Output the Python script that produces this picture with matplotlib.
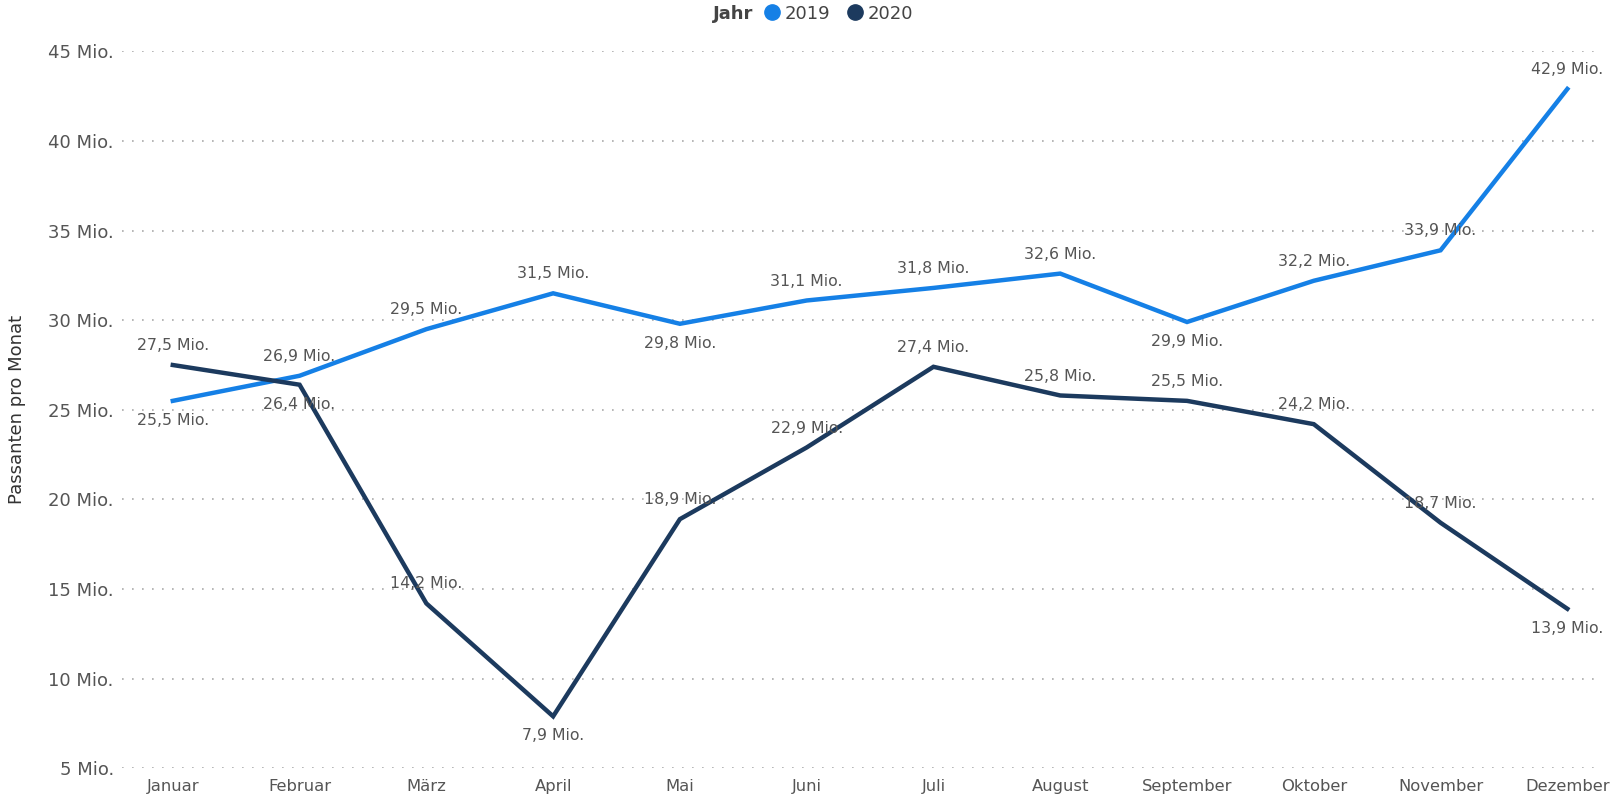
import matplotlib.pyplot as plt
from matplotlib.lines import Line2D

# Daten
monate = ["Januar", "Februar", "März", "April", "Mai", "Juni", "Juli",
          "August", "September", "Oktober", "November", "Dezember"]
werte_2019 = [25.5, 26.9, 29.5, 31.5, 29.8, 31.1, 31.8, 32.6, 29.9, 32.2, 33.9, 42.9]
werte_2020 = [27.5, 26.4, 14.2, 7.9, 18.9, 22.9, 27.4, 25.8, 25.5, 24.2, 18.7, 13.9]
y_ticks = [5, 10, 15, 20, 25, 30, 35, 40, 45]

# Beschriftung oben (1) oder unten (-1)
lage_2019 = [-1, 1, 1, 1, -1, 1, 1, 1, -1, 1, 1, 1]
lage_2020 = [1, -1, 1, -1, 1, 1, 1, 1, 1, 1, 1, -1]

farbe_2019 = "#1580e6"
farbe_2020 = "#1c3a5e"
text_farbe = "#555555"

plt.rcParams['font.family'] = ['DejaVu Sans']


def fmt(v):
    return f"{v:.1f}".replace(".", ",") + " Mio."


def main():
    fig = plt.figure(figsize=(16.17, 8.02), dpi=100)
    ax = fig.add_axes([0.0755, 0.042, 0.913, 0.894])

    x = list(range(len(monate)))
    ax.plot(x, werte_2019, color=farbe_2019, linewidth=3.2, solid_joinstyle="miter", zorder=3)
    ax.plot(x, werte_2020, color=farbe_2020, linewidth=3.2, solid_joinstyle="miter", zorder=3)

    for werte, lage in ((werte_2019, lage_2019), (werte_2020, lage_2020)):
        for i, (v, l) in enumerate(zip(werte, lage)):
            ax.annotate(fmt(v), (i, v), xytext=(0, 14 * l), textcoords="offset points",
                        ha="center", va="center", fontsize=11.3, color=text_farbe, zorder=4)

    ax.set_xlim(-0.4, 11.245)
    ax.set_ylim(5, 45)
    ax.set_xticks(x)
    ax.set_xticklabels(monate, fontsize=11.8, color=text_farbe)
    ax.set_yticks(y_ticks)
    ax.set_yticklabels([f"{t} Mio." for t in y_ticks], fontsize=13, color=text_farbe)
    ax.tick_params(length=0, pad=8)
    ax.tick_params(axis="y", pad=6)
    ax.grid(axis="y", linestyle=(0, (1, 5)), color="#aaaaaa", linewidth=1.2)
    ax.set_axisbelow(True)
    for s in ax.spines.values():
        s.set_visible(False)

    fig.text(0.005, 0.49, "Passanten pro Monat", rotation=90, ha="left", va="center",
             fontsize=13, color="#333333")

    # Legende
    fig.text(0.466, 0.983, "Jahr", fontsize=13, fontweight="bold", color="#444444",
             ha="right", va="center")
    handles = [Line2D([], [], marker="o", linestyle="", markersize=11, color=farbe_2019),
               Line2D([], [], marker="o", linestyle="", markersize=11, color=farbe_2020)]
    fig.legend(handles, ["2019", "2020"], loc="center left", bbox_to_anchor=(0.466, 0.983),
               ncol=2, frameon=False, fontsize=13, handletextpad=-0.3, columnspacing=0.4,
               labelcolor="#444444", borderaxespad=0, borderpad=0)

    plt.savefig("out.png", dpi=100)


if __name__ == "__main__":
    main()
